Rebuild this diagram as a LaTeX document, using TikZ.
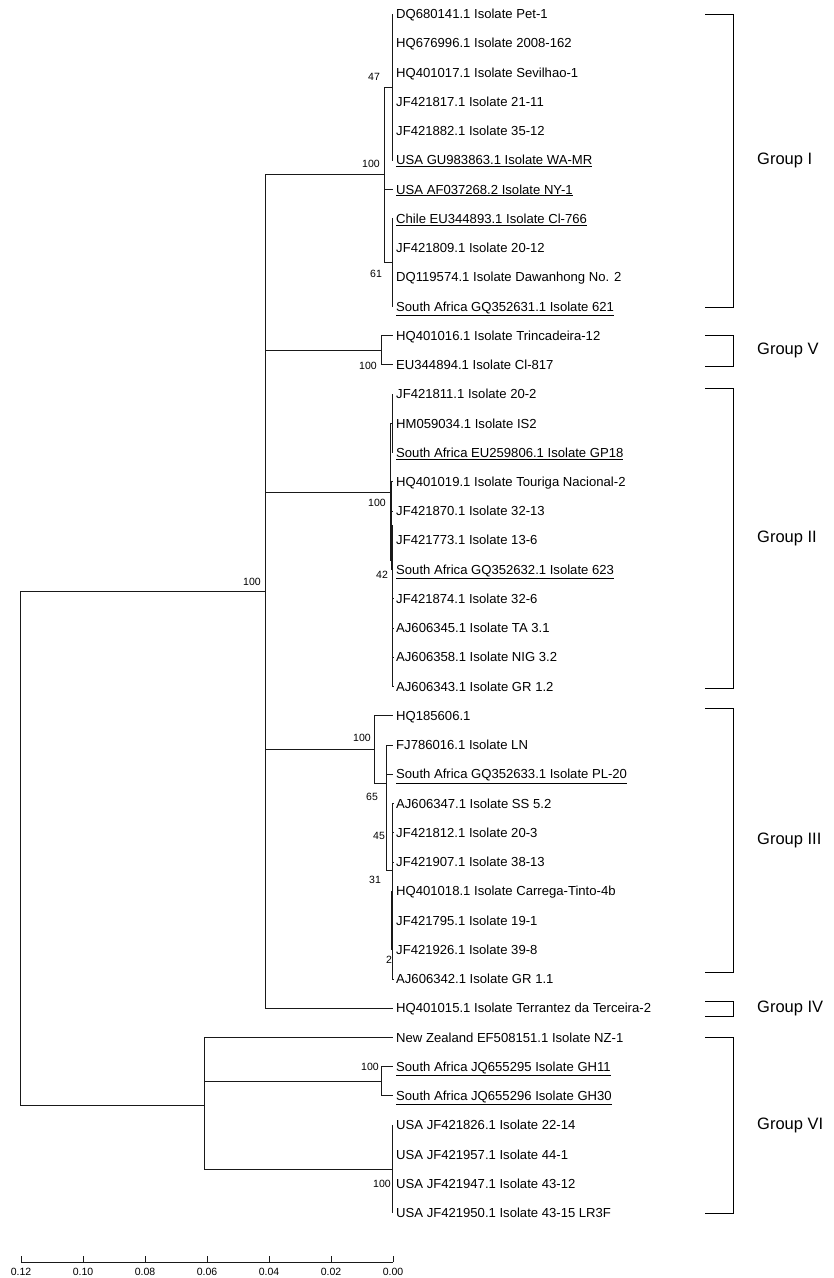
\documentclass[tikz,border=0pt]{standalone}
\usepackage{fontspec}
\setmainfont{Liberation Sans}
\usetikzlibrary{positioning}

\begin{document}
\begin{tikzpicture}[
    x=1pt, y=-1pt,
    font=\fontsize{13.1}{15}\selectfont,
    br/.style   = {draw=black!90, line width=0.85pt},
    leaf/.style = {anchor=west, inner xsep=3pt, inner ysep=0pt,
                   text height=9.3pt, text depth=0pt},
    boot/.style = {font=\fontsize{10.5}{12}\selectfont, inner sep=0pt},
    grp/.style  = {anchor=west, inner xsep=0pt, font=\fontsize{16.5}{19}\selectfont},
    brk/.style  = {draw=black, line width=0.9pt},
]
\useasboundingbox (0,0) rectangle (834,1278);

%============================ LEAVES ================================
\foreach \i/\txt in {
    0/DQ680141.1 Isolate Pet-1,
    1/HQ676996.1 Isolate 2008-162,
    2/HQ401017.1 Isolate Sevilhao-1,
    3/JF421817.1 Isolate 21-11,
    4/JF421882.1 Isolate 35-12,
    5/\underline{USA GU983863.1 Isolate WA-MR},
    6/\underline{USA AF037268.2 Isolate NY-1},
    7/\underline{Chile EU344893.1 Isolate Cl-766},
    8/JF421809.1 Isolate 20-12,
    9/DQ119574.1 Isolate Dawanhong No. 2,
    10/\underline{South Africa GQ352631.1 Isolate 621},
    11/HQ401016.1 Isolate Trincadeira-12,
    12/EU344894.1 Isolate Cl-817,
    13/JF421811.1 Isolate 20-2,
    14/HM059034.1 Isolate IS2,
    15/\underline{South Africa EU259806.1 Isolate GP18},
    16/HQ401019.1 Isolate Touriga Nacional-2,
    17/JF421870.1 Isolate 32-13,
    18/JF421773.1 Isolate 13-6,
    19/\underline{South Africa GQ352632.1 Isolate 623},
    20/JF421874.1 Isolate 32-6,
    21/AJ606345.1 Isolate TA 3.1,
    22/AJ606358.1 Isolate NIG 3.2,
    23/AJ606343.1 Isolate GR 1.2,
    24/HQ185606.1,
    25/FJ786016.1 Isolate LN,
    26/\underline{South Africa GQ352633.1 Isolate PL-20},
    27/AJ606347.1 Isolate SS 5.2,
    28/JF421812.1 Isolate 20-3,
    29/JF421907.1 Isolate 38-13,
    30/HQ401018.1 Isolate Carrega-Tinto-4b,
    31/JF421795.1 Isolate 19-1,
    32/JF421926.1 Isolate 39-8,
    33/AJ606342.1 Isolate GR 1.1,
    34/HQ401015.1 Isolate Terrantez da Terceira-2,
    35/New Zealand EF508151.1 Isolate NZ-1,
    36/\underline{South Africa JQ655295 Isolate GH11},
    37/\underline{South Africa JQ655296 Isolate GH30},
    38/USA JF421826.1 Isolate 22-14,
    39/USA JF421957.1 Isolate 44-1,
    40/USA JF421947.1 Isolate 43-12,
    41/USA JF421950.1 Isolate 43-15 LR3F}
  \node[leaf] (l\i) at (393, 14+29.24*\i) {\txt};

%============================ INNER NODES ===========================
\coordinate (root) at (20, 848);
\coordinate (M)    at (265, 591.5);
\coordinate (g1)   at (384, 174.8);
\coordinate (g1a)  at (392, 87.1);
\coordinate (g1b)  at (392, 262.5);
\coordinate (g5)   at (381, 350.3);
\coordinate (g2)   at (390.5, 492);
\coordinate (g2a)  at (392, 423.4);
\coordinate (g2b)  at (392, 560.6);
\coordinate (g2c)  at (391.2, 525.7);
\coordinate (g2d)  at (392.8, 642.7);
\coordinate (g3)   at (374, 749.4);
\coordinate (g3a)  at (386, 783);
\coordinate (g3b)  at (392, 870);
\coordinate (g3c)  at (392.6, 832.7);
\coordinate (g3d)  at (392.6, 935);
\coordinate (g3e)  at (391.6, 920.4);
\coordinate (g6)   at (204, 1105);
\coordinate (gh)   at (381, 1081.3);
\coordinate (gu)   at (392, 1169);

%============================ BRANCHES ==============================
\draw[br] (root) |- (M);
\draw[br] (root) |- (g6);
% --- main clade
\foreach \c in {g1, g5, g2, g3} \draw[br] (M) |- (\c);
\draw[br] (M) |- (l34.west);
% --- group I
\draw[br] (g1) |- (g1a);
\draw[br] (g1) |- (l6.west);
\draw[br] (g1) |- (g1b);
\foreach \i in {0,...,5} \draw[br] (g1a) |- (l\i.west);
\foreach \i in {7,...,10} \draw[br] (g1b) |- (l\i.west);
% --- group V
\foreach \i in {11,12} \draw[br] (g5) |- (l\i.west);
% --- group II
\draw[br] (g2) |- (g2a);
\draw[br] (g2) |- (g2b);
\draw[br] (g2b) |- (g2c);
\draw[br] (g2b) |- (g2d);
\foreach \i in {13,14,15} \draw[br] (g2a) |- (l\i.west);
\foreach \i in {16,...,19} \draw[br] (g2c) |- (l\i.west);
\foreach \i in {20,...,23} \draw[br] (g2d) |- (l\i.west);
% --- group III
\draw[br] (g3) |- (l24.west);
\draw[br] (g3) |- (g3a);
\foreach \i in {25,26} \draw[br] (g3a) |- (l\i.west);
\draw[br] (g3a) |- (g3b);
\draw[br] (g3b) |- (g3c);
\draw[br] (g3b) |- (g3d);
\foreach \i in {27,28,29} \draw[br] (g3c) |- (l\i.west);
\draw[br] (g3d) |- (g3e);
\draw[br] (g3d) |- (l33.west);
\foreach \i in {30,31,32} \draw[br] (g3e) |- (l\i.west);
% --- group VI
\draw[br] (g6) |- (l35.west);
\draw[br] (g6) |- (gh);
\draw[br] (g6) |- (gu);
\foreach \i in {36,37} \draw[br] (gh) |- (l\i.west);
\foreach \i in {38,...,41} \draw[br] (gu) |- (l\i.west);

%============================ BOOTSTRAP =============================
\node[boot] (bM)   at (252, 582)  {100};
\node[boot] (b47)  at (374, 77)   {47};
\node[boot] (bg1)  at (371, 164)  {100};
\node[boot] (b61)  at (376, 274)  {61};
\node[boot] (bg5)  at (368, 366)  {100};
\node[boot] (bg2)  at (377, 503)  {100};
\node[boot] (b42)  at (382, 575)  {42};
\node[boot] (bg3)  at (362, 738)  {100};
\node[boot] (b65)  at (372, 797)  {65};
\node[boot] (b45)  at (379, 836)  {45};
\node[boot] (b31)  at (375, 880)  {31};
\node[boot] (b2)   at (389, 960)  {2};
\node[boot] (bgh)  at (370, 1067) {100};
\node[boot] (bgu)  at (382, 1184) {100};

%============================ GROUPS ================================
\foreach \top/\bot/\nm in {14/307/I, 335/366/V, 388/688/II,
                          708/972/III, 1001/1016/IV, 1037/1213/VI}{
  \draw[brk] (705,\top) -| (733,\bot) -- (705,\bot);
  \node[grp] (grp\nm) at (757, {(\top+\bot)/2}) {Group \nm};
}

%============================ SCALE =================================
\coordinate (sL) at (21, 1262);
\coordinate (sR) at (393, 1262);
\draw[br] (sL) -- (sR);
\foreach \k/\v in {0/0.12, 1/0.10, 2/0.08, 3/0.06, 4/0.04, 5/0.02, 6/0.00}{
  \draw[br] ([xshift=62*\k]sL) -- ++(0,-6);
  \node[boot] (sc\k) at ([xshift=62*\k, yshift=-10]sL) {\v};
}

\end{tikzpicture}
\end{document}
